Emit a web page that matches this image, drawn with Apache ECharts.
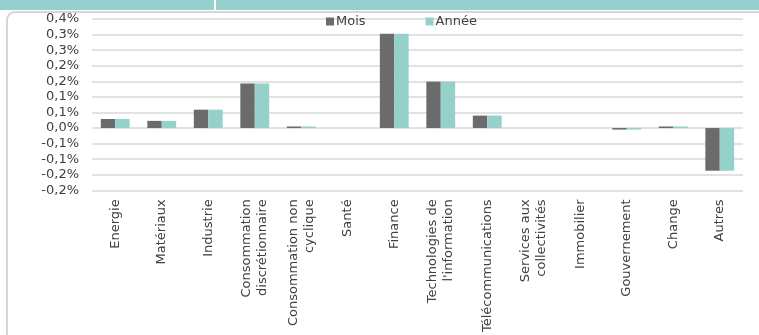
<!DOCTYPE html>
<html>
<head>
<meta charset="utf-8">
<script src="https://cdn.jsdelivr.net/npm/echarts@6/dist/echarts.min.js"></script>
<style>
  html, body { margin: 0; padding: 0; background: #fff; }
  #chart { width: 759px; height: 335px; }
</style>
</head>
<body>
<div id="chart"></div>
<script>
// secteurs
var categories = [
  'Energie', 'Matériaux', 'Industrie', 'Consommation\ndiscrétionnaire',
  'Consommation non\ncyclique', 'Santé', 'Finance', 'Technologies de\nl\'information',
  'Télécommunications', 'Services aux\ncollectivités', 'Immobilier', 'Gouvernement',
  'Change', 'Autres'
];
// contributions en %
var mois = [0.029, 0.023, 0.059, 0.143, 0.005, 0, 0.303, 0.149, 0.040, 0, 0, -0.005, 0.005, -0.137];
var annee = [0.029, 0.023, 0.059, 0.143, 0.005, 0, 0.303, 0.149, 0.040, 0, 0, -0.005, 0.005, -0.137];
// libellés de l'axe y, du bas vers le haut
var yTickLabels = ['-0,2%', '-0,2%', '-0,1%', '-0,1%', '0,0%', '0,1%', '0,1%', '0,2%', '0,2%', '0,3%', '0,3%', '0,4%'];
var yMin = -0.2, yMax = 0.35, yStep = 0.05;

var font = '"DejaVu Sans", sans-serif';

var chart = echarts.init(document.getElementById('chart'));
var option = {
  backgroundColor: '#fff',
  animation: false,
  graphic: [
    { type: 'rect', shape: { x: 0, y: 0, width: 759, height: 10 }, style: { fill: '#96cfcb' } },
    { type: 'rect', shape: { x: 214, y: 0, width: 2, height: 10 }, style: { fill: '#ffffff' } },
    { type: 'rect', shape: { x: 7, y: 12, width: 770, height: 340, r: 8 },
      style: { fill: 'none', stroke: '#d6d6d6', lineWidth: 2 } }
  ],
  legend: {
    left: 326,
    top: 15,
    padding: 0,
    itemWidth: 8,
    itemHeight: 8,
    itemGap: 60,
    icon: 'rect',
    textStyle: { fontFamily: font, fontSize: 13, color: '#404040', padding: [0, 0, 0, -3] },
    data: ['Mois', 'Année']
  },
  grid: { left: 92, right: 16, top: 19, bottom: 143, containLabel: false },
  xAxis: {
    type: 'category',
    data: categories,
    position: 'bottom',
    axisLine: { show: false, onZero: false },
    axisTick: { show: false },
    axisLabel: {
      rotate: 90,
      interval: 0,
      margin: 9,
      fontFamily: font,
      fontSize: 13,
      lineHeight: 16,
      color: '#404040'
    }
  },
  yAxis: {
    type: 'value',
    min: yMin,
    max: yMax,
    interval: yStep,
    axisLine: { show: false },
    axisTick: { show: false },
    splitLine: { lineStyle: { color: '#d9d9d9', width: 1.5 } },
    axisLabel: {
      margin: 13,
      fontFamily: font,
      fontSize: 13,
      color: '#404040',
      formatter: function (v) {
        return yTickLabels[Math.round((v - yMin) / yStep)];
      }
    }
  },
  series: [
    {
      name: 'Mois', type: 'bar', data: mois,
      barGap: '0%', barCategoryGap: '38%',
      itemStyle: { color: '#6b6b6b' }
    },
    {
      name: 'Année', type: 'bar', data: annee,
      barGap: '0%', barCategoryGap: '38%',
      itemStyle: { color: '#96d0ca' }
    }
  ]
};
chart.setOption(option);
</script>
</body>
</html>
